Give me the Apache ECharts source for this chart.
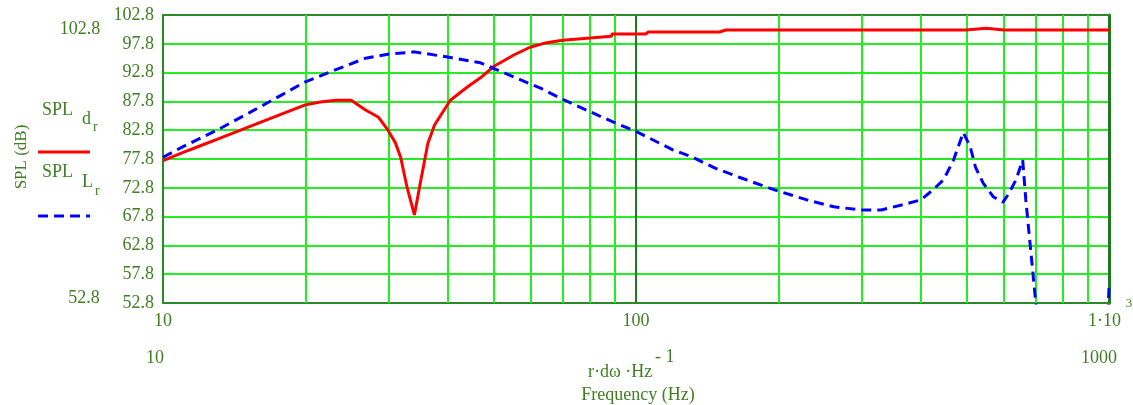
<!DOCTYPE html>
<html>
<head>
<meta charset="utf-8">
<script src="https://cdn.jsdelivr.net/npm/echarts@6/dist/echarts.min.js"></script>
<style>
html,body{margin:0;padding:0;background:#fff;}
#c{width:1133px;height:405px;}
</style>
</head>
<body>
<div id="c"></div>
<script>
// ---- data ----
const freqD = [10, 11, 12, 13, 15, 17.8, 20, 21.5, 23.2, 25, 26.8, 28.5, 29.9, 31, 31.8, 32.8, 34, 35.1, 36.3, 37.5, 40.5, 44, 46.9, 50.1, 55.3, 59.7, 64.7, 70, 80, 88.7, 89, 100, 105, 106, 150, 155, 200, 300, 400, 498, 500, 550, 552, 600, 700, 800, 900, 1000];
const splD  = [77.5, 78.9, 80.1, 81.2, 83.2, 85.6, 87.2, 87.7, 88.0, 88.0, 86.3, 85.1, 82.8, 80.6, 78.1, 72.9, 68.1, 74.2, 80.5, 83.7, 88.0, 90.3, 91.9, 93.9, 95.9, 97.2, 98.0, 98.4, 98.8, 99.1, 99.5, 99.5, 99.5, 99.85, 99.85, 100.2, 100.2, 100.2, 100.2, 100.2, 100.5, 100.5, 100.2, 100.2, 100.2, 100.2, 100.2, 100.2];

const freqL = [10, 11, 13, 15.2, 17.8, 20, 23.2, 26.8, 29.9, 34, 40, 46.9, 55.3, 63.2, 69, 78.5, 89.6, 100.5, 119.6, 131, 147, 167, 197, 230, 262, 300, 330, 372, 400, 424, 447, 469, 492, 509, 522, 542, 570, 597, 615, 636, 657, 667, 683, 700, 720, 990, 1000];
const splL  = [78.1, 79.9, 82.8, 85.8, 88.9, 91.2, 93.3, 95.3, 96.0, 96.4, 95.5, 94.5, 92.0, 90.0, 88.4, 86.3, 84.2, 82.5, 79.4, 78.2, 76.2, 74.5, 72.4, 70.7, 69.5, 68.95, 68.95, 70.0, 70.7, 72.4, 74.2, 77.6, 82.4, 79.9, 76.4, 73.6, 71.2, 70.3, 71.9, 74.2, 77.6, 70.7, 62.0, 52.9, 45, 45, 55.6];

const yTicks = [52.8, 57.8, 62.8, 67.8, 72.8, 77.8, 82.8, 87.8, 92.8, 97.8, 102.8];
const minorFreqs = [20, 30, 40, 50, 60, 70, 80, 90, 200, 300, 400, 500, 600, 700, 800, 900];

const GREEN_TXT = '#3f7f22';
const FONT = '"Liberation Serif", "Times New Roman", serif';
const BRIGHT = '#22ee22';
const DARK = '#2a8a2a';

const chart = echarts.init(document.getElementById('c'), null, {renderer: 'canvas'});

const txt = (x, y, text, opts) => Object.assign({
  type: 'text', x, y,
  style: Object.assign({text, fill: GREEN_TXT, font: '18px ' + FONT, textAlign: 'center', textVerticalAlign: 'middle'}, opts && opts.style || {})
}, opts && opts.extra || {});

chart.setOption({
  animation: false,
  backgroundColor: '#fff',
  grid: {left: 163, right: 17, top: 15, bottom: 102, containLabel: false},
  xAxis: [{
    type: 'log', logBase: 10, min: 10, max: 1000,
    axisLine: {show: true, lineStyle: {color: DARK, width: 2}},
    axisTick: {show: false},
    splitLine: {show: true, lineStyle: {color: '#1f7a1f', width: 2}},
    axisLabel: {
      color: GREEN_TXT, fontFamily: FONT, fontSize: 18, margin: 9,
      showMinLabel: true, showMaxLabel: true,
      formatter: v => v === 1000 ? '1·10  ' : String(Math.round(v))
    }
  }, {
    type: 'log', logBase: 10, min: 10, max: 1000, position: 'top',
    axisLine: {show: true, lineStyle: {color: DARK, width: 2}},
    axisTick: {show: false}, axisLabel: {show: false}, splitLine: {show: false}
  }],
  yAxis: [{
    type: 'value', min: 52.8, max: 102.8, interval: 5,
    axisLine: {show: true, lineStyle: {color: DARK, width: 2}},
    axisTick: {show: false},
    splitLine: {show: true, lineStyle: {color: BRIGHT, width: 2}},
    axisLabel: {color: GREEN_TXT, fontFamily: FONT, fontSize: 18, margin: 9,
      formatter: v => v.toFixed(1)}
  }, {
    type: 'value', min: 52.8, max: 102.8, interval: 5, position: 'right',
    axisLine: {show: true, lineStyle: {color: '#1f7a1f', width: 3}},
    axisTick: {show: false}, axisLabel: {show: false}, splitLine: {show: false}
  }],
  series: [{
    name: 'grid', type: 'line', data: [], z: 1, silent: true,
    markLine: {
      silent: true, symbol: 'none', animation: false,
      label: {show: false},
      lineStyle: {color: BRIGHT, type: 'solid', width: 2},
      data: minorFreqs.map(f => ({xAxis: f}))
    }
  }, {
    name: 'SPL d_r', type: 'line', showSymbol: false, symbol: 'none',
    data: freqD.map((f, i) => [f, splD[i]]),
    lineStyle: {color: '#ff0000', width: 3}, z: 5, clip: true
  }, {
    name: 'SPL L_r', type: 'line', showSymbol: false, symbol: 'none',
    data: freqL.map((f, i) => [f, splL[i]]),
    lineStyle: {color: '#0000ff', width: 3, type: [10, 6]}, z: 6, clip: true
  }],
  graphic: [
    txt(80, 29, '102.8'),
    txt(84, 298, '52.8'),
    txt(155, 358, '10'),
    txt(1099, 358, '1000'),
    txt(1129, 304, '3', {style: {font: '13px ' + FONT}}),
    txt(588, 372, 'r·dω ·Hz', {style: {textAlign: 'left'}}),
    txt(655, 357, '- 1', {style: {textAlign: 'left'}}),
    txt(638, 395, 'Frequency (Hz)'),
    {type: 'text', x: 22, y: 157, rotation: Math.PI / 2, style: {
      text: 'SPL (dB)', fill: GREEN_TXT, font: '17px ' + FONT, textAlign: 'center', textVerticalAlign: 'middle'}},
    txt(42, 110, 'SPL', {style: {textAlign: 'left'}}),
    txt(82, 119, 'd', {style: {textAlign: 'left'}}),
    txt(93, 127, 'r', {style: {textAlign: 'left', font: '14px ' + FONT}}),
    {type: 'line', shape: {x1: 38, y1: 152, x2: 90, y2: 152}, style: {stroke: '#ff0000', lineWidth: 3}},
    txt(42, 172, 'SPL', {style: {textAlign: 'left'}}),
    txt(82, 182, 'L', {style: {textAlign: 'left'}}),
    txt(95, 191, 'r', {style: {textAlign: 'left', font: '14px ' + FONT}}),
    {type: 'line', shape: {x1: 38, y1: 216, x2: 90, y2: 216}, style: {stroke: '#0000ff', lineWidth: 3, lineDash: [10, 6]}}
  ]
});
</script>
</body>
</html>
